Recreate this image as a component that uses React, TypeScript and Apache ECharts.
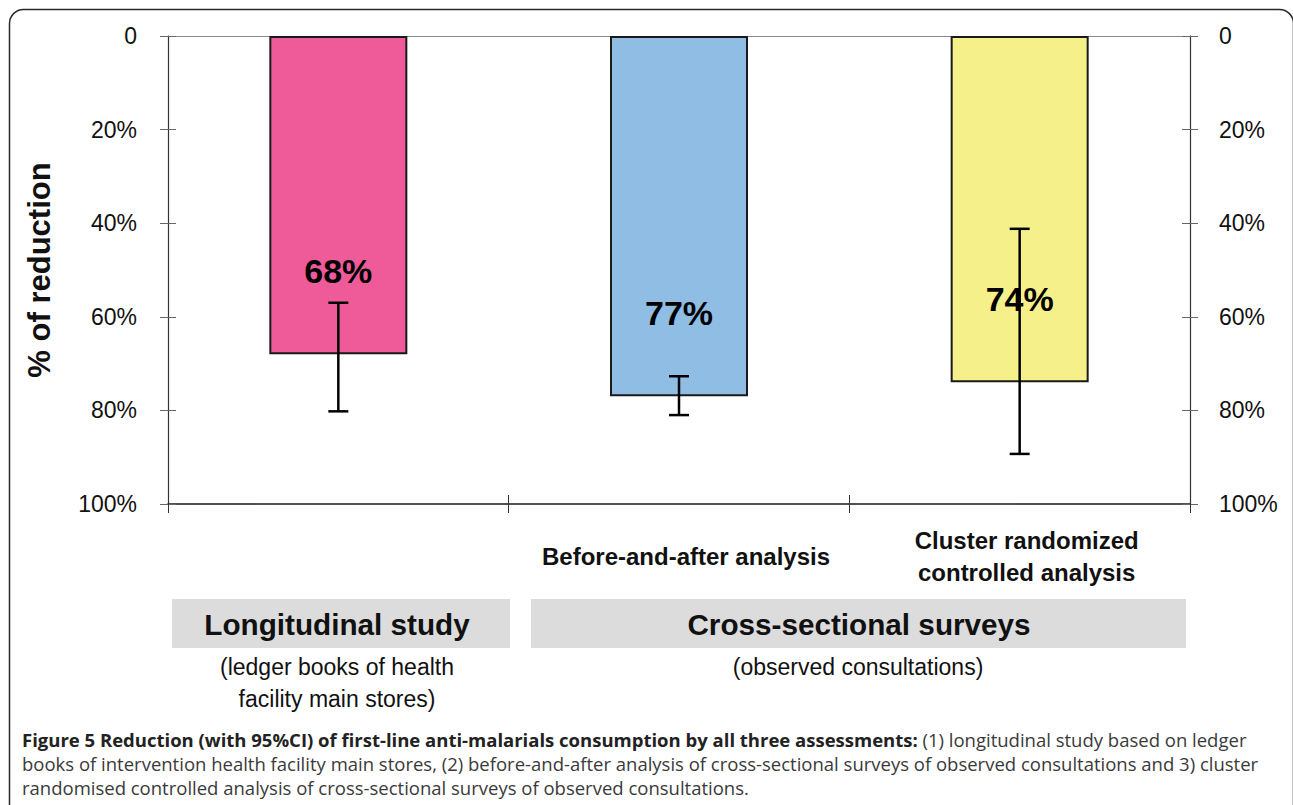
import React, { useEffect, useRef } from "react";
import * as echarts from "echarts";

const categories = ["", "Before-and-after analysis", "Cluster randomized\ncontrolled analysis"];
const reduction = [68, 77, 74];
const ciLow = [57, 72.7, 41.2];
const ciHigh = [80.2, 81, 89.3];
const barColors = ["#ef5a98", "#8fbde4", "#f5f08a"];
const yTicks = [0, 20, 40, 60, 80, 100];

const groupTitles = ["Longitudinal study", "Cross-sectional surveys"];
const groupSubtitles = ["(ledger books of health\nfacility main stores)", "(observed consultations)"];
const captionBold = "Figure 5 Reduction (with 95%CI) of first-line anti-malarials consumption by all three assessments:";
const captionLines = [
  " (1) longitudinal study based on ledger",
  "books of intervention health facility main stores, (2) before-and-after analysis of cross-sectional surveys of observed consultations and 3) cluster",
  "randomised controlled analysis of cross-sectional surveys of observed consultations.",
];

const FONT = "'Liberation Sans', Arial, Helvetica, sans-serif";
const CAP_FONT = "'Open Sans', 'DejaVu Sans', sans-serif";

export default function App() {
  const ref = useRef<HTMLDivElement>(null);
  useEffect(() => {
    document.body.style.margin = "0";
    const chart = echarts.init(ref.current!, null, { renderer: "svg" });
    const fmt = (v: number) => (v === 0 ? "0" : v + "%");
    const yBase = {
      type: "value",
      min: yTicks[0],
      max: yTicks[yTicks.length - 1],
      interval: 20,
      inverse: true,
      splitLine: { show: false },
    };
    const option: any = {
      animation: false,
      backgroundColor: "#ffffff",
      grid: { left: 168, right: 103, top: 36, bottom: 301 },
      xAxis: [
        {
          type: "category",
          data: categories,
          position: "bottom",
          axisLine: { onZero: false, lineStyle: { color: "#1a1a1a", width: 1.5 } },
          axisTick: { show: true, length: 9, lineStyle: { color: "#333" } },
          axisLabel: {
            interval: 0,
            color: "#111",
            fontFamily: FONT,
            fontWeight: "bold",
            fontSize: 24,
            lineHeight: 32,
            verticalAlign: "middle",
            margin: 52,
            padding: [0, 0, 0, 14],
          },
        },
        {
          type: "category",
          data: categories,
          position: "top",
          axisLine: { onZero: false, lineStyle: { color: "#8a8a8a", width: 1.2 } },
          axisTick: { show: false },
          axisLabel: { show: false },
        },
        {
          type: "category",
          data: categories,
          position: "bottom",
          axisLine: { show: false, onZero: false },
          axisTick: { show: true, inside: true, length: 9, lineStyle: { color: "#333" } },
          axisLabel: { show: false },
        },
      ],
      yAxis: [
        {
          ...yBase,
          position: "left",
          name: "% of reduction",
          nameLocation: "middle",
          nameGap: 113,
          nameTextStyle: { fontFamily: FONT, fontWeight: "bold", fontSize: 31, color: "#111" },
          axisLine: { show: true, lineStyle: { color: "#333", width: 1.2 } },
          axisTick: { show: true, length: 8, lineStyle: { color: "#666" } },
          axisLabel: { formatter: fmt, fontFamily: FONT, fontSize: 23, color: "#111", margin: 31 },
        },
        {
          ...yBase,
          position: "right",
          axisLine: { show: true, lineStyle: { color: "#333", width: 1.2 } },
          axisTick: { show: true, length: 8, lineStyle: { color: "#666" } },
          axisLabel: { formatter: fmt, fontFamily: FONT, fontSize: 23, color: "#111", margin: 29 },
        },
        {
          ...yBase,
          position: "left",
          axisLine: { show: false },
          axisTick: { show: true, inside: true, length: 8, lineStyle: { color: "#666" } },
          axisLabel: { show: false },
        },
        {
          ...yBase,
          position: "right",
          axisLine: { show: false },
          axisTick: { show: true, inside: true, length: 8, lineStyle: { color: "#666" } },
          axisLabel: { show: false },
        },
      ],
      series: [
        {
          type: "bar",
          xAxisIndex: 0,
          yAxisIndex: 0,
          barWidth: 138,
          data: reduction.map((v, i) => ({ value: v, itemStyle: { color: barColors[i] } })),
          itemStyle: { borderColor: "#1a1a1a", borderWidth: 2 },
          label: {
            show: true,
            position: "insideBottom",
            distance: 66,
            formatter: "{c}%",
            fontFamily: FONT,
            fontWeight: "bold",
            fontSize: 34,
            color: "#000",
          },
          z: 2,
        },
        {
          type: "custom",
          xAxisIndex: 0,
          yAxisIndex: 0,
          data: reduction.map((_, i) => [i, ciLow[i], ciHigh[i]]),
          z: 5,
          renderItem: (params: any, api: any) => {
            const x = api.value(0);
            const top = api.coord([x, api.value(1)]);
            const bot = api.coord([x, api.value(2)]);
            const hw = 10;
            const style = { stroke: "#000", lineWidth: 2.5 };
            return {
              type: "group",
              children: [
                { type: "line", shape: { x1: top[0], y1: top[1], x2: bot[0], y2: bot[1] }, style },
                { type: "line", shape: { x1: top[0] - hw, y1: top[1], x2: top[0] + hw, y2: top[1] }, style },
                { type: "line", shape: { x1: bot[0] - hw, y1: bot[1], x2: bot[0] + hw, y2: bot[1] }, style },
              ],
            };
          },
        },
      ],
      graphic: [
        {
          type: "rect",
          shape: { x: 9.5, y: 9.5, width: 1284, height: 900, r: 14 },
          style: { fill: "none", stroke: "#2a2a2a", lineWidth: 1.5 },
          silent: true,
        },
        {
          type: "rect",
          shape: { x: 172, y: 599, width: 338, height: 49 },
          style: { fill: "#dcdcdc" },
        },
        {
          type: "rect",
          shape: { x: 531, y: 599, width: 655, height: 49 },
          style: { fill: "#dcdcdc" },
        },
        {
          type: "text",
          x: 337,
          y: 624,
          style: {
            text: groupTitles[0],
            font: `bold 29.7px ${FONT}`,
            fill: "#111",
            textAlign: "center",
            textVerticalAlign: "middle",
          },
        },
        {
          type: "text",
          x: 859,
          y: 624,
          style: {
            text: groupTitles[1],
            font: `bold 29.7px ${FONT}`,
            fill: "#111",
            textAlign: "center",
            textVerticalAlign: "middle",
          },
        },
        {
          type: "text",
          x: 337,
          y: 651,
          style: {
            text: groupSubtitles[0],
            font: `23px ${FONT}`,
            lineHeight: 32,
            fill: "#111",
            textAlign: "center",
            textVerticalAlign: "top",
          },
        },
        {
          type: "text",
          x: 858,
          y: 651,
          style: {
            text: groupSubtitles[1],
            font: `23px ${FONT}`,
            lineHeight: 32,
            fill: "#111",
            textAlign: "center",
            textVerticalAlign: "top",
          },
        },
        {
          type: "text",
          x: 22,
          y: 727,
          style: {
            text: `{b|${captionBold}}{r|${captionLines[0]}}\n{r|${captionLines[1]}}\n{r|${captionLines[2]}}`,
            rich: {
              b: { font: `bold 18.5px ${CAP_FONT}`, fill: "#222", lineHeight: 24 },
              r: { font: `18.5px ${CAP_FONT}`, fill: "#3a3a3a", lineHeight: 24 },
            },
            textAlign: "left",
            textVerticalAlign: "top",
          },
        },
      ],
    };
    chart.setOption(option);
    return () => chart.dispose();
  }, []);
  return <div ref={ref} style={{ width: 1293, height: 805 }} />;
}
